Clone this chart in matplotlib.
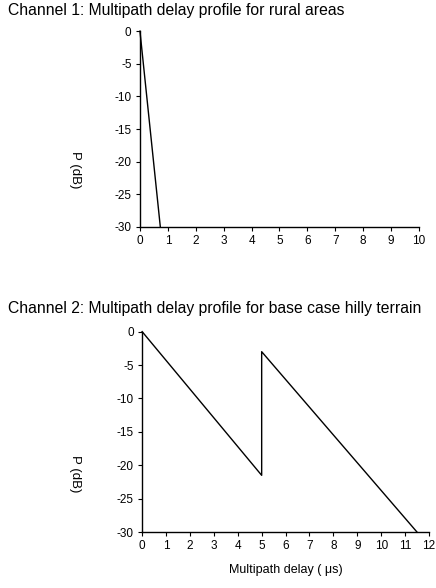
import matplotlib
matplotlib.use("Agg")
import matplotlib.pyplot as plt

plt.rcParams['font.family'] = ['Liberation Sans', 'DejaVu Sans']
plt.rcParams['axes.unicode_minus'] = False

# Channel 1: rural areas
rural_delay = [0, 0.73]
rural_power = [0, -30]

# Channel 2: base case hilly terrain
hilly_delay = [0, 5, 5, 11.5]
hilly_power = [0, -21.5, -3, -30]

y_ticks = [0, -5, -10, -15, -20, -25, -30]


def style_axes(ax, xmax):
    ax.set_xlim(0, xmax)
    ax.set_ylim(-30, 0)
    ax.set_xticks(range(0, xmax + 1))
    ax.set_yticks(y_ticks)
    for side in ('top', 'right'):
        ax.spines[side].set_visible(False)
    for side in ('left', 'bottom'):
        ax.spines[side].set_linewidth(1.0)
    ax.tick_params(direction='out', length=3, width=0.8, labelsize=8.5, pad=3)
    ax.text(-0.233, 0.29, 'P (dB)', rotation=-90, transform=ax.transAxes,
            ha='center', va='center', fontsize=9.5)


fig = plt.figure(figsize=(4.36, 5.88), dpi=100)

ax1 = fig.add_axes([0.321, 0.614, 0.640, 0.333])
ax1.plot(rural_delay, rural_power, color='black', lw=1.0, clip_on=False)
style_axes(ax1, 10)
fig.text(0.018, 1 - 11 / 588, 'Channel 1: Multipath delay profile for rural areas',
         ha='left', va='center', fontsize=11.3)

ax2 = fig.add_axes([0.326, 0.095, 0.658, 0.341])
ax2.plot(hilly_delay, hilly_power, color='black', lw=1.0, clip_on=False)
style_axes(ax2, 12)
ax2.set_xlabel('Multipath delay ( μs)', fontsize=9, labelpad=8)
fig.text(0.018, 1 - 309 / 588, 'Channel 2: Multipath delay profile for base case hilly terrain',
         ha='left', va='center', fontsize=11.3)

fig.savefig('out.png', dpi=100)
